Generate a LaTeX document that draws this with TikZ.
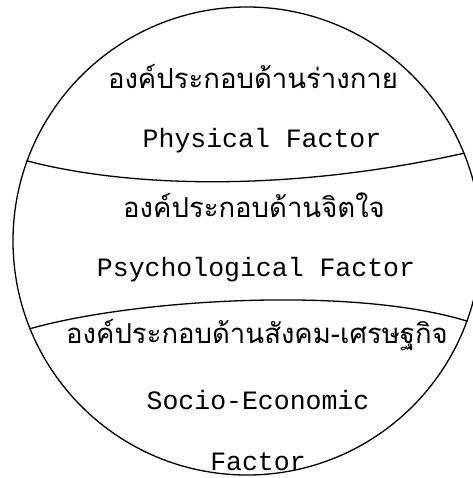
\documentclass[tikz,border=0pt]{standalone}
\usepackage{fontspec}
\newfontfamily\thaifont[Script=Thai]{Loma}
\newfontfamily\typefont{Liberation Mono}
\usetikzlibrary{positioning}

\begin{document}
\begin{tikzpicture}[
  x=1pt,
  y=-1pt,
  line width=1.3pt
]
\tikzstyle{thai}=[inner sep=0pt, font=\thaifont\fontsize{27.5}{30}\selectfont]
\tikzstyle{eng}=[inner sep=0pt, font=\typefont\fontsize{26.5}{30}\selectfont]

\useasboundingbox (0,0) rectangle (472,478);

% ================= OUTER CIRCLE =================
\node[draw, circle, minimum size=468pt, inner sep=0pt] (C) at (247,241) {};

% ================= DIVIDERS =================
\draw (C.160) .. controls (130,188) and (290,192) .. (C.22);
\draw (C.202) .. controls (130,300) and (350,285) .. (C.340);

% ================= TOP PART =================
\node[thai] (T1) at (253,77) {องค์ประกอบด้านร่างกาย};
\node[eng]  (E1) at (262,141) {Physical Factor};

% ================= MIDDLE PART =================
\node[thai] (T2) at (254,205) {องค์ประกอบด้านจิตใจ};
\node[eng]  (E2) at (256,270) {Psychological Factor};

% ================= BOTTOM PART =================
\node[thai] (T3) at (257,335) {องค์ประกอบด้านสังคม-เศรษฐกิจ};
\node[eng]  (E3) at (258,400) {Socio-Economic};
\node[eng]  (E4) [below=42pt of E3] {Factor};
\end{tikzpicture}
\end{document}
